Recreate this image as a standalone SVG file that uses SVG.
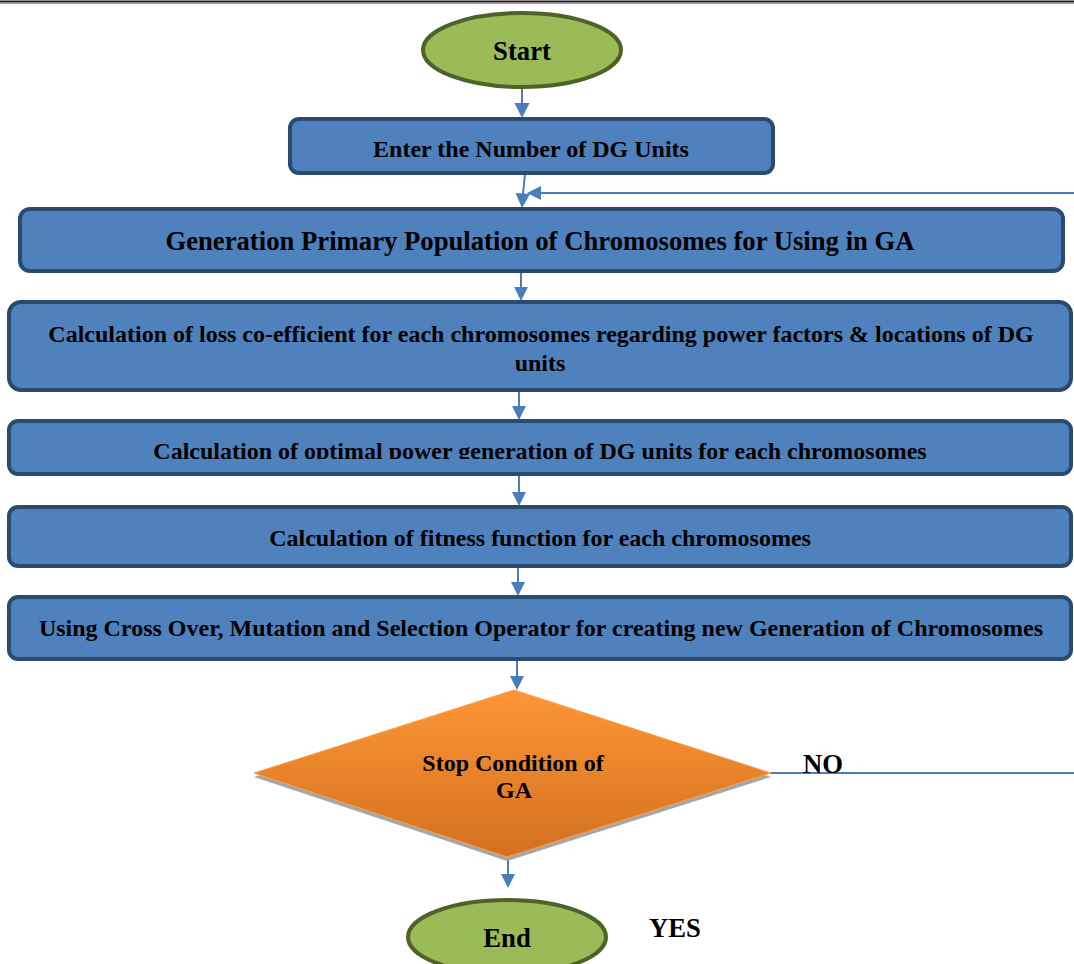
<svg xmlns="http://www.w3.org/2000/svg" width="1074" height="964" viewBox="0 0 1074 964">
<style>
.t{font-family:"Liberation Serif","Times New Roman",serif;font-weight:bold;fill:#000;text-anchor:middle}
.s24{font-size:24px}
.s27{font-size:26.7px}
.box{fill:#4f81bd;stroke:#2b4a6f;stroke-width:4}
.term{fill:#9bbb59;stroke:#4f6228;stroke-width:4}
.con{fill:none;stroke:#4a7ebb;stroke-width:2}
</style>
<defs>
<marker id="ah" viewBox="0 0 10 10" refX="10" refY="5" markerWidth="7.5" markerHeight="7.5" markerUnits="userSpaceOnUse" orient="auto">
<path d="M0,0 L10,5 L0,10 z" fill="#4a7ebb"/>
</marker>
<linearGradient id="og" x1="0" y1="0" x2="0" y2="1">
<stop offset="0" stop-color="#fd9636"/>
<stop offset="1" stop-color="#d2701f"/>
</linearGradient>
<clipPath id="clip4"><rect x="0" y="421" width="1074" height="38"/></clipPath>
</defs>
<rect x="0" y="0" width="1074" height="964" fill="#fff"/>
<line x1="0" y1="1.5" x2="1074" y2="1.5" stroke="#1a1a1a" stroke-width="2"/>
<line x1="0" y1="3.5" x2="1074" y2="3.5" stroke="#9a9a9a" stroke-width="1"/>

<g id="connectors">
<line class="con" x1="522" y1="88" x2="522" y2="103"/>
<path d="M514.5,103 L529.5,103 L522,118 z" fill="#4a7ebb"/>
<line class="con" x1="525" y1="174" x2="523" y2="194"/>
<path d="M515.5,193 L530,194 L522,208 z" fill="#4a7ebb"/>
<line class="con" x1="1074" y1="193" x2="540" y2="193"/>
<path d="M541,186 L541,200 L527,193 z" fill="#4a7ebb"/>
<line class="con" x1="521" y1="272" x2="521" y2="287"/>
<path d="M514,287 L528,287 L521,301 z" fill="#4a7ebb"/>
<line class="con" x1="519" y1="391" x2="519" y2="406"/>
<path d="M512,406 L526,406 L519,420 z" fill="#4a7ebb"/>
<line class="con" x1="519" y1="476" x2="519" y2="492"/>
<path d="M512,492 L526,492 L519,506 z" fill="#4a7ebb"/>
<line class="con" x1="518" y1="567" x2="518" y2="582"/>
<path d="M511,582 L525,582 L518,596 z" fill="#4a7ebb"/>
<line class="con" x1="517" y1="660" x2="517" y2="676"/>
<path d="M510,676 L524,676 L517,690 z" fill="#4a7ebb"/>
<line class="con" x1="771" y1="773" x2="1074" y2="773"/>
<line class="con" x1="508" y1="858" x2="508" y2="874"/>
<path d="M501,874 L515,874 L508,888 z" fill="#4a7ebb"/>
</g>

<g id="start">
<ellipse class="term" cx="522" cy="50" rx="99" ry="37"/>
<text class="t s27" x="522" y="60">Start</text>
</g>

<g id="n1">
<rect class="box" x="290" y="119" width="483" height="54" rx="9"/>
<text class="t s24" x="531" y="157">Enter the Number of DG Units</text>
</g>

<g id="n2">
<rect class="box" x="20" y="209" width="1043" height="62" rx="10"/>
<text class="t s27" x="540" y="250">Generation Primary Population of Chromosomes for Using in GA</text>
</g>

<g id="n3">
<rect class="box" x="9" y="302" width="1062" height="88" rx="12"/>
<text class="t s24" x="541" y="342">Calculation of loss co-efficient for each chromosomes regarding power factors &amp; locations of DG</text>
<text class="t s24" x="540" y="371">units</text>
</g>

<g id="n4">
<rect class="box" x="9" y="421" width="1062" height="53" rx="9"/>
<text class="t s24" x="540" y="459" clip-path="url(#clip4)">Calculation of optimal power generation of DG units for each chromosomes</text>
</g>

<g id="n5">
<rect class="box" x="9" y="507" width="1062" height="59" rx="9"/>
<text class="t s24" x="540" y="546">Calculation of fitness function for each chromosomes</text>
</g>

<g id="n6">
<rect class="box" x="9" y="597" width="1062" height="62" rx="9"/>
<text class="t s24" x="541" y="636">Using Cross Over, Mutation and Selection Operator for creating new Generation of Chromosomes</text>
</g>

<g id="decision">
<path d="M514,694 L771,777 L507,861 L254,777 z" fill="#a6a6a6"/>
<path d="M514,690 L771,773 L507,857 L254,773 z" fill="url(#og)" stroke="#f9a04c" stroke-width="1"/>
<text class="t s24" x="513" y="771">Stop Condition of</text>
<text class="t s24" x="514" y="798">GA</text>
</g>

<g id="labels">
<text class="t s27" x="823" y="773">NO</text>
<text class="t s27" x="675" y="937">YES</text>
</g>

<g id="end">
<ellipse class="term" cx="507" cy="937" rx="99" ry="37"/>
<text class="t s27" x="507" y="947">End</text>
</g>
</svg>
